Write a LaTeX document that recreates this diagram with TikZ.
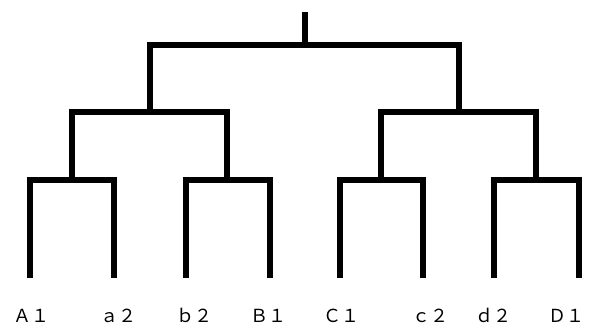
\documentclass[tikz,border=0pt]{standalone}
\usepackage{fontspec}
\newfontfamily\jpfont{Noto Sans CJK JP}
\usepackage{tikz}
\usetikzlibrary{positioning, calc}

\begin{document}
\begin{tikzpicture}[
    x=1pt, y=-1pt,
    branch/.style={line width=6pt, line join=miter},
    leaf/.style={anchor=base, inner sep=0pt, font=\jpfont\fontsize{18}{18}\selectfont}
]
    \useasboundingbox (0,0) rectangle (590,329);
    % leaf tips
    \coordinate (tA1) at (30,278);
    \coordinate (ta2) at (114,278);
    \coordinate (tb2) at (185.5,278);
    \coordinate (tB1) at (269.5,278);
    \coordinate (tC1) at (339.5,278);
    \coordinate (tc2) at (422.5,278);
    \coordinate (td2) at (493.5,278);
    \coordinate (tD1) at (578.5,278);
    % joints
    \coordinate (jAa) at (72,179.5);
    \coordinate (jbB) at (227,179.5);
    \coordinate (jCc) at (380.5,179.5);
    \coordinate (jdD) at (535.5,179.5);
    \coordinate (jL) at (149.5,112);
    \coordinate (jR) at (459,112);
    \coordinate (jtop) at (304.5,45);
    \coordinate (root) at (304.5,12);
    % labels
    \node[leaf] (A1) at (31,322) {Ａ１};
    \node[leaf] (a2) at (118,322) {ａ２};
    \node[leaf] (b2) at (194,322) {ｂ２};
    \node[leaf] (B1) at (268,322) {Ｂ１};
    \node[leaf] (C1) at (341,322) {Ｃ１};
    \node[leaf] (c2) at (430,322) {ｃ２};
    \node[leaf] (d2) at (493,322) {ｄ２};
    \node[leaf] (D1) at (566,322) {Ｄ１};
    % tree
    \draw[branch] (tA1) |- (jAa) -| (ta2);
    \draw[branch] (tb2) |- (jbB) -| (tB1);
    \draw[branch] (tC1) |- (jCc) -| (tc2);
    \draw[branch] (td2) |- (jdD) -| (tD1);
    \draw[branch] (jAa) |- (jL) -| (jbB);
    \draw[branch] (jCc) |- (jR) -| (jdD);
    \draw[branch] (jL) |- (jtop) -| (jR);
    \draw[branch] (jtop) -- (root);
\end{tikzpicture}
\end{document}
